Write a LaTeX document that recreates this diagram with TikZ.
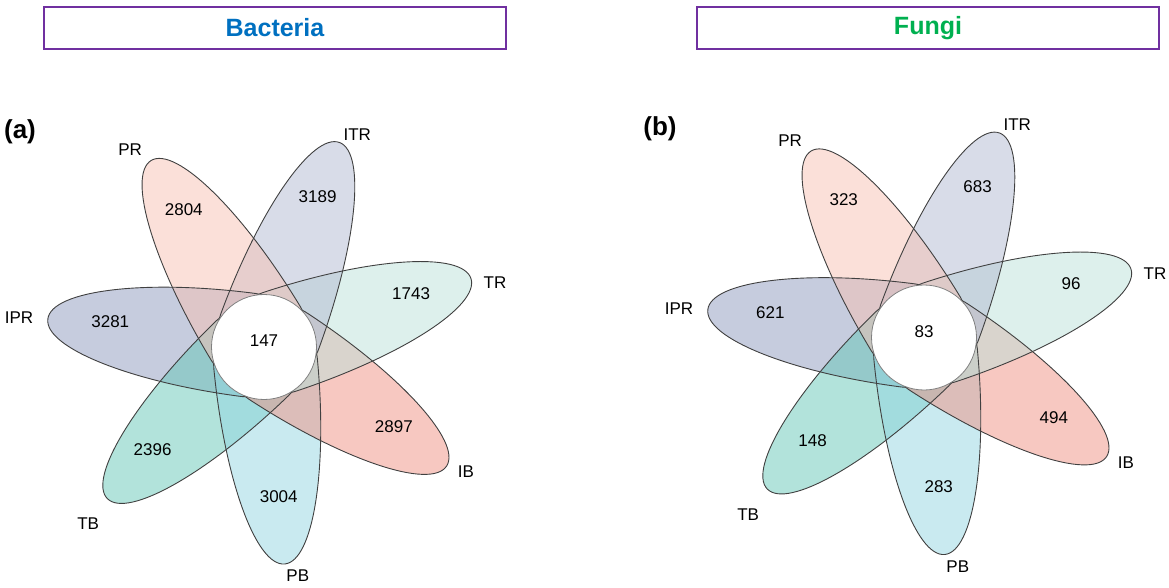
\documentclass[tikz,border=0pt]{standalone}
\usepackage{fontspec}
\setmainfont{Liberation Sans}
\usetikzlibrary{positioning}
\definecolor{petIPR}{HTML}{8D99BD}
\definecolor{petTB}{HTML}{65C7B7}
\definecolor{petPB}{HTML}{93D5E1}
\definecolor{petIB}{HTML}{EF9183}
\definecolor{petTR}{HTML}{BBE1D9}
\definecolor{petITR}{HTML}{B1B9D1}
\definecolor{petPR}{HTML}{F7C1B3}
\definecolor{boxpurple}{HTML}{7030A0}
\definecolor{bactblue}{HTML}{0070C0}
\definecolor{fungreen}{HTML}{00B050}

\begin{document}
\begin{tikzpicture}[x=1pt,y=1pt]
\tikzset{petal/.style={fill opacity=0.5}}
\tikzset{rim/.style={draw=black!75, line width=0.9pt}}
\tikzset{count/.style={font=\fontsize{17}{17}\selectfont, inner sep=0pt}}
\tikzset{setname/.style={font=\fontsize{17}{17}\selectfont, inner sep=0pt}}
\tikzset{core/.style={circle, fill=white, draw=gray, line width=0.8pt, minimum size=105pt, inner sep=0pt}}
\tikzset{title/.style={draw=boxpurple, line width=2pt, minimum width=462pt, minimum height=42pt, font=\bfseries\fontsize{25}{25}\selectfont}}
\tikzset{panel/.style={font=\bfseries\fontsize{26}{26}\selectfont, inner sep=0pt}}

\useasboundingbox (0,0) rectangle (1169,587);

\node[title, text=bactblue] (bact) at (275,559) {Bacteria};
\node[title, text=fungreen] (fung) at (928,559) {Fungi};
\node[panel] (pa) at (20,455) {(a)};
\node[panel] (pb) at (660,458) {(b)};

% (a) bacteria
\coordinate (ca) at (264,240);
\foreach \k/\c in {0/petIPR,1/petTB,2/petPB,3/petIB,4/petTR,5/petITR,6/petPR}
  \fill[petal, \c, shift={(ca)}, rotate={172.6+51.43*\k}] (16,-52) arc [start angle=-90, end angle=90, x radius=202, y radius=52] arc [start angle=90, end angle=270, x radius=40, y radius=52] -- cycle;
\foreach \k in {0,...,6}
  \draw[rim, shift={(ca)}, rotate={172.6+51.43*\k}] (16,-52) arc [start angle=-90, end angle=90, x radius=202, y radius=52] arc [start angle=90, end angle=270, x radius=40, y radius=52] -- cycle;
\node[core] (corea) at (ca) {};
\node[count] (na7) at ([yshift=6]ca) {147};
\foreach \k/\v in {0/3281,1/2396,2/3004,3/2897,4/1743,5/3189,6/2804}
  \node[count] (na\k) at ([shift={({172.6+51.43*\k}:155)}, yshift=5]ca) {\v};
\foreach \s/\a/\r in {IPR/173.2/246.7, TB/225.2/249.6, PB/278.4/231.5, IB/328.2/237.5, TR/15.5/239.7, ITR/66.3/232, PR/124.2/238.3}
  \node[setname] (la\s) at ([shift={(\a:\r)}]ca) {\s};

% (b) fungi
\coordinate (cb) at (924,249.5);
\foreach \k/\c in {0/petIPR,1/petTB,2/petPB,3/petIB,4/petTR,5/petITR,6/petPR}
  \fill[petal, \c, shift={(cb)}, rotate={172.6+51.43*\k}] (16,-52) arc [start angle=-90, end angle=90, x radius=202, y radius=52] arc [start angle=90, end angle=270, x radius=40, y radius=52] -- cycle;
\foreach \k in {0,...,6}
  \draw[rim, shift={(cb)}, rotate={172.6+51.43*\k}] (16,-52) arc [start angle=-90, end angle=90, x radius=202, y radius=52] arc [start angle=90, end angle=270, x radius=40, y radius=52] -- cycle;
\node[core] (coreb) at (cb) {};
\node[count] (nb7) at ([yshift=6]cb) {83};
\foreach \k/\v in {0/621,1/148,2/283,3/494,4/96,5/683,6/323}
  \node[count] (nb\k) at ([shift={({172.6+51.43*\k}:155)}, yshift=5]cb) {\v};
\foreach \s/\a/\r in {IPR/173.2/246.7, TB/225.2/249.6, PB/278.4/231.5, IB/328.2/237.5, TR/15.5/239.7, ITR/66.3/232, PR/124.2/238.3}
  \node[setname] (lb\s) at ([shift={(\a:\r)}]cb) {\s};
\end{tikzpicture}
\end{document}
